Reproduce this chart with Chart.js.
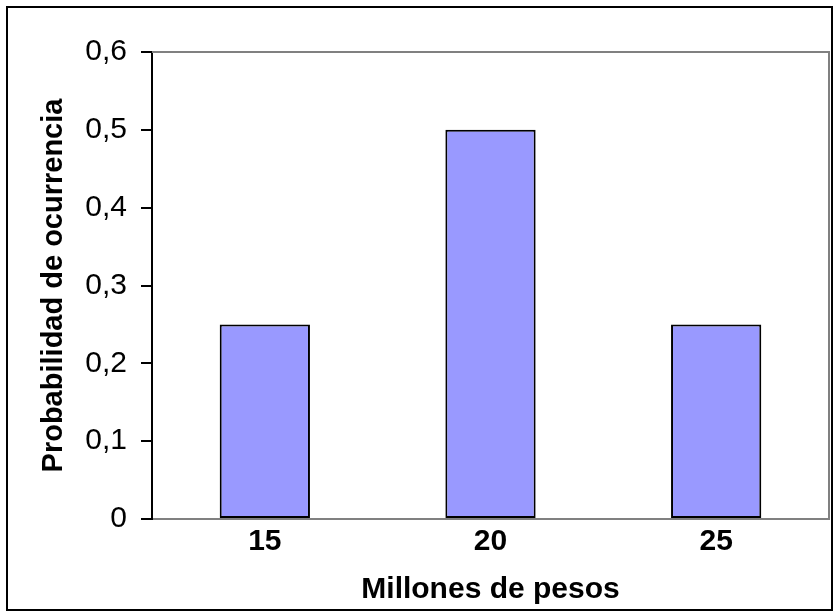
<!DOCTYPE html>
<html>
<head>
<meta charset="utf-8">
<script src="https://cdn.jsdelivr.net/npm/chart.js@4.4.1/dist/chart.umd.min.js"></script>
<style>
  html, body { margin: 0; padding: 0; background: #fff; }
  #wrap { width: 838px; height: 616px; position: relative; }
</style>
</head>
<body>
<div id="wrap"><canvas id="chart" width="838" height="616"></canvas></div>
<script>
const categories = ['15', '20', '25'];
const probabilities = [0.25, 0.5, 0.25];
const yTicks = [0, 0.1, 0.2, 0.3, 0.4, 0.5, 0.6];

// outer frame + grey plot border (top/right)
const framePlugin = {
  id: 'frame',
  beforeDatasetsDraw(chart) {
    const { ctx, chartArea: a } = chart;
    ctx.save();
    ctx.strokeStyle = '#808080';
    ctx.lineWidth = 2;
    ctx.beginPath();
    ctx.moveTo(a.left, a.top);
    ctx.lineTo(a.right, a.top);
    ctx.lineTo(a.right, a.bottom);
    ctx.stroke();
    ctx.restore();
  },
  afterDraw(chart) {
    const ctx = chart.ctx;
    ctx.save();
    ctx.strokeStyle = '#000';
    ctx.lineWidth = 2;
    ctx.strokeRect(7, 7, 825, 603);
    ctx.restore();
  }
};

const font = 'Liberation Sans, Arial, sans-serif';

new Chart(document.getElementById('chart'), {
  type: 'bar',
  data: {
    labels: categories,
    datasets: [{
      data: probabilities,
      backgroundColor: '#9999FF',
      borderColor: '#000',
      borderWidth: 2,
      borderSkipped: false,
      categoryPercentage: 0.4,
      barPercentage: 1
    }]
  },
  options: {
    responsive: false,
    animation: false,
    layout: { padding: { left: 0, top: 52, right: 9, bottom: 0 } },
    plugins: { legend: { display: false }, tooltip: { enabled: false } },
    scales: {
      x: {
        afterFit(s) { s.height = 97; },
        grid: { display: false, drawTicks: false },
        border: { color: '#808080', width: 2 },
        ticks: {
          color: '#000',
          padding: 5,
          font: { family: font, size: 30, weight: 'bold' }
        },
        title: {
          display: true,
          text: 'Millones de pesos',
          color: '#000',
          padding: { top: 0, bottom: 8 },
          font: { family: font, size: 30, weight: 'bold' }
        }
      },
      y: {
        min: 0,
        max: 0.6,
        afterFit(s) { s.width = 152; },
        afterBuildTicks(s) { s.ticks = yTicks.map(v => ({ value: v })); },
        grid: { drawOnChartArea: false, drawTicks: true, tickLength: 11, color: '#000', lineWidth: 2 },
        border: { color: '#000', width: 2 },
        ticks: {
          color: '#000',
          padding: 14,
          font: { family: font, size: 30 },
          callback: v => String(v).replace('.', ',')
        },
        title: {
          display: true,
          text: 'Probabilidad de ocurrencia',
          color: '#000',
          padding: { top: 37, bottom: 0 },
          font: { family: font, size: 29, weight: 'bold' }
        }
      }
    }
  },
  plugins: [framePlugin]
});
</script>
</body>
</html>
